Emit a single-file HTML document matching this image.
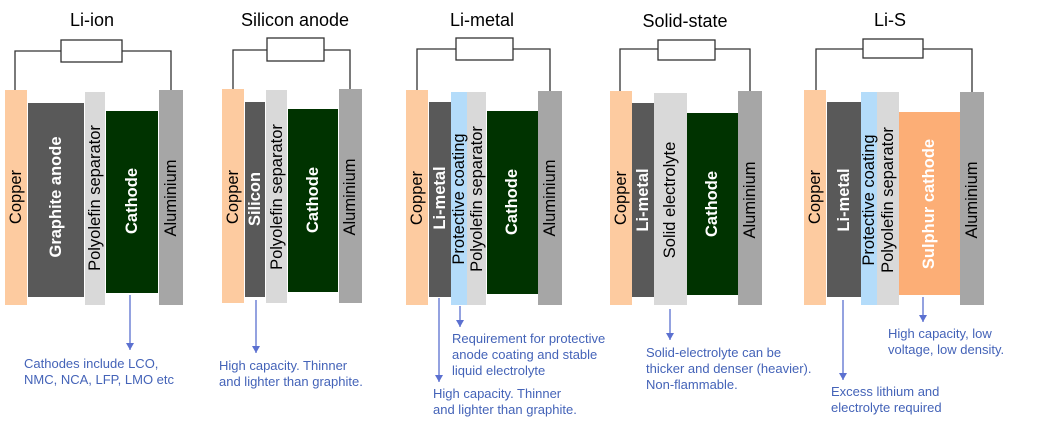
<!DOCTYPE html>
<html><head><meta charset="utf-8"><style>
html,body{margin:0;padding:0;background:#fff;}
svg{display:block;font-family:"Liberation Sans",Arial,sans-serif;}
.t{font-size:18px;fill:#000;text-anchor:middle}
.v{font-size:16.5px;text-anchor:middle;dominant-baseline:central}
.b{font-weight:bold;fill:#fff}
.k{fill:#000}
.n{font-size:13px;fill:#4463b8}
.w{fill:none;stroke:#333;stroke-width:1.3}
.a{stroke:#5b70d0;stroke-width:1.3}
</style></head><body>
<svg width="1040" height="425" viewBox="0 0 1040 425" xmlns="http://www.w3.org/2000/svg">
<defs><marker id="ar" markerWidth="8" markerHeight="8" refX="4" refY="7" orient="0" markerUnits="userSpaceOnUse"><path d="M0,0 L8,0 L4,7 z" fill="#5b70d0"/></marker></defs>

<!-- Li-ion -->
<text class="t" x="92" y="26">Li-ion</text>
<path class="w" d="M15,90 V51 H61 M122,51 H171 V90"/><rect x="61" y="40" width="61" height="22" fill="#fff" stroke="#333" stroke-width="1.3"/>
<rect x="5" y="90" width="22" height="215" fill="#fdcba0"/>
<rect x="28" y="103" width="56" height="194" fill="#595959"/>
<rect x="85" y="92" width="20" height="213" fill="#d9d9d9"/>
<rect x="106" y="111" width="52" height="182" fill="#003300"/>
<rect x="159" y="90" width="24" height="215" fill="#a6a6a6"/>
<text class="v k" transform="translate(16,197) rotate(-90)">Copper</text>
<text class="v b" transform="translate(56,197) rotate(-90)">Graphite anode</text>
<text class="v k" transform="translate(95,198) rotate(-90)">Polyolefin separator</text>
<text class="v b" transform="translate(132,201) rotate(-90)">Cathode</text>
<text class="v k" transform="translate(171,198) rotate(-90)">Aluminium</text>

<!-- Silicon -->
<text class="t" x="295" y="26">Silicon anode</text>
<path class="w" d="M233,89 V50 H267 M324,50 H350 V89"/><rect x="267" y="38" width="57" height="23" fill="#fff" stroke="#333" stroke-width="1.3"/>
<rect x="222" y="89" width="22" height="214" fill="#fdcba0"/>
<rect x="245" y="102" width="20" height="195" fill="#595959"/>
<rect x="266" y="90" width="21" height="213" fill="#d9d9d9"/>
<rect x="288" y="109" width="50" height="183" fill="#003300"/>
<rect x="339" y="89" width="23" height="214" fill="#a6a6a6"/>
<text class="v k" transform="translate(233,197) rotate(-90)">Copper</text>
<text class="v b" transform="translate(255,199) rotate(-90)">Silicon</text>
<text class="v k" transform="translate(277,197) rotate(-90)">Polyolefin separator</text>
<text class="v b" transform="translate(313,200) rotate(-90)">Cathode</text>
<text class="v k" transform="translate(350,197) rotate(-90)">Aluminium</text>

<!-- Li-metal -->
<text class="t" x="482" y="26">Li-metal</text>
<path class="w" d="M417,90 V49 H456 M513,49 H550 V91"/><rect x="456" y="38" width="57" height="22" fill="#fff" stroke="#333" stroke-width="1.3"/>
<rect x="406" y="90" width="22" height="215" fill="#fdcba0"/>
<rect x="429" y="102" width="22" height="195" fill="#595959"/>
<rect x="451" y="92" width="16" height="213" fill="#b4dcfa"/>
<rect x="467" y="92" width="19" height="213" fill="#d9d9d9"/>
<rect x="487" y="111" width="51" height="183" fill="#003300"/>
<rect x="538" y="91" width="24" height="214" fill="#a6a6a6"/>
<text class="v k" transform="translate(417,198) rotate(-90)">Copper</text>
<text class="v b" transform="translate(440,198) rotate(-90)">Li-metal</text>
<text class="v k" transform="translate(459,199) rotate(-90)">Protective coating</text>
<text class="v k" transform="translate(477,199) rotate(-90)">Polyolefin separator</text>
<text class="v b" transform="translate(512,202) rotate(-90)">Cathode</text>
<text class="v k" transform="translate(550,198) rotate(-90)">Aluminium</text>

<!-- Solid-state -->
<text class="t" x="685" y="27">Solid-state</text>
<path class="w" d="M620,91 V49 H658 M715,49 H750 V91"/><rect x="658" y="40" width="57" height="20" fill="#fff" stroke="#333" stroke-width="1.3"/>
<rect x="610" y="91" width="22" height="214" fill="#fdcba0"/>
<rect x="632" y="103" width="22" height="194" fill="#595959"/>
<rect x="654" y="93" width="33" height="212" fill="#d9d9d9"/>
<rect x="687" y="113" width="51" height="182" fill="#003300"/>
<rect x="738" y="91" width="24" height="214" fill="#a6a6a6"/>
<text class="v k" transform="translate(621,198) rotate(-90)">Copper</text>
<text class="v b" transform="translate(643,200) rotate(-90)">Li-metal</text>
<text class="v k" transform="translate(670,200) rotate(-90)">Solid electrolyte</text>
<text class="v b" transform="translate(712,204) rotate(-90)">Cathode</text>
<text class="v k" transform="translate(750,200) rotate(-90)">Aluminium</text>

<!-- Li-S -->
<text class="t" x="890" y="26">Li-S</text>
<path class="w" d="M816,90 V49 H863 M923,49 H972 V92"/><rect x="863" y="39" width="60" height="19" fill="#fff" stroke="#333" stroke-width="1.3"/>
<rect x="804" y="90" width="22" height="215" fill="#fdcba0"/>
<rect x="827" y="102" width="34" height="195" fill="#595959"/>
<rect x="861" y="92" width="16" height="213" fill="#b4dcfa"/>
<rect x="877" y="92" width="22" height="213" fill="#d9d9d9"/>
<rect x="899" y="112" width="61" height="183" fill="#fcae76"/>
<rect x="960" y="92" width="24" height="213" fill="#a6a6a6"/>
<text class="v k" transform="translate(815,197) rotate(-90)">Copper</text>
<text class="v b" transform="translate(844,200) rotate(-90)">Li-metal</text>
<text class="v k" transform="translate(869,200) rotate(-90)">Protective coating</text>
<text class="v k" transform="translate(888,200) rotate(-90)">Polyolefin separator</text>
<text class="v b" transform="translate(929,204) rotate(-90)">Sulphur cathode</text>
<text class="v k" transform="translate(972,200) rotate(-90)">Aluminium</text>

<!-- arrows -->
<line class="a" x1="130" y1="295" x2="130" y2="350" marker-end="url(#ar)"/>
<line class="a" x1="256" y1="300" x2="256" y2="353" marker-end="url(#ar)"/>
<line class="a" x1="439" y1="298" x2="439" y2="382" marker-end="url(#ar)"/>
<line class="a" x1="460" y1="306" x2="460" y2="327" marker-end="url(#ar)"/>
<line class="a" x1="670" y1="309" x2="670" y2="340" marker-end="url(#ar)"/>
<line class="a" x1="843" y1="300" x2="843" y2="380" marker-end="url(#ar)"/>
<line class="a" x1="923" y1="297" x2="923" y2="322" marker-end="url(#ar)"/>

<!-- notes -->
<text class="n" x="24" y="368">Cathodes include LCO,</text>
<text class="n" x="24" y="384">NMC, NCA, LFP, LMO etc</text>
<text class="n" x="219" y="370">High capacity. Thinner</text>
<text class="n" x="219" y="386">and lighter than graphite.</text>
<text class="n" x="452" y="343">Requirement for protective</text>
<text class="n" x="452" y="359">anode coating and stable</text>
<text class="n" x="452" y="375">liquid electrolyte</text>
<text class="n" x="433" y="398">High capacity. Thinner</text>
<text class="n" x="433" y="414">and lighter than graphite.</text>
<text class="n" x="646" y="357">Solid-electrolyte can be</text>
<text class="n" x="646" y="373">thicker and denser (heavier).</text>
<text class="n" x="646" y="389">Non-flammable.</text>
<text class="n" x="888" y="338">High capacity, low</text>
<text class="n" x="888" y="354">voltage, low density.</text>
<text class="n" x="831" y="396">Excess lithium and</text>
<text class="n" x="831" y="412">electrolyte required</text>
</svg>
</body></html>
